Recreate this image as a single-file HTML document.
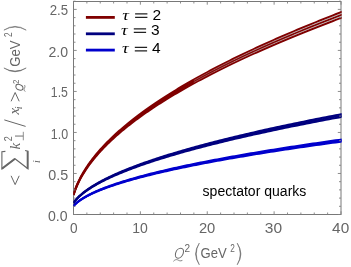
<!DOCTYPE html>
<html><head><meta charset="utf-8"><title>plot</title>
<style>html,body{margin:0;padding:0;background:#fff;}svg{display:block;will-change:transform;}text{font-family:"Liberation Sans",sans-serif;}.it{font-family:"Liberation Serif",serif;font-style:italic;}</style></head><body>
<svg width="351" height="267" viewBox="0 0 351 267">
<rect x="0" y="0" width="351" height="267" fill="#ffffff"/>
<defs><clipPath id="cp"><rect x="73.5" y="1.5" width="268.1" height="213.0"/></clipPath></defs>
<rect x="73.5" y="1.5" width="267.5" height="213.0" fill="none" stroke="#787878" stroke-width="1"/>
<g clip-path="url(#cp)">
<polyline points="73.50,206.12 73.51,206.11 73.54,206.08 73.59,206.01 73.67,205.93 73.76,205.82 73.88,205.70 74.01,205.55 74.17,205.38 74.35,205.19 74.55,204.98 74.77,204.76 75.01,204.52 75.27,204.27 75.56,204.00 75.86,203.73 76.19,203.44 76.53,203.14 76.90,202.83 77.29,202.51 77.70,202.18 78.13,201.84 78.58,201.50 79.06,201.15 79.55,200.80 80.06,200.44 80.60,200.08 81.16,199.71 81.73,199.33 82.33,198.95 82.95,198.57 83.59,198.18 84.25,197.80 84.94,197.40 85.64,197.01 86.36,196.61 87.11,196.21 87.88,195.81 88.66,195.40 89.47,195.00 90.30,194.59 91.15,194.18 92.02,193.76 92.92,193.35 93.83,192.93 94.77,192.52 95.72,192.10 96.70,191.68 97.70,191.26 98.71,190.83 99.75,190.41 100.81,189.99 101.90,189.56 103.00,189.13 104.12,188.71 105.27,188.28 106.43,187.85 107.62,187.42 108.83,186.99 110.06,186.56 111.31,186.13 112.58,185.69 113.87,185.26 115.18,184.83 116.51,184.39 117.87,183.96 119.24,183.52 120.64,183.08 122.06,182.65 123.50,182.21 124.96,181.77 126.44,181.33 127.94,180.90 129.46,180.46 131.01,180.02 132.57,179.58 134.16,179.14 135.76,178.70 137.39,178.26 139.04,177.81 140.71,177.37 142.40,176.93 144.11,176.49 145.84,176.05 147.60,175.60 149.37,175.16 151.17,174.72 152.99,174.27 154.82,173.83 156.68,173.39 158.56,172.94 160.46,172.50 162.38,172.05 164.33,171.61 166.29,171.16 168.28,170.72 170.28,170.27 172.31,169.83 174.36,169.38 176.42,168.94 178.51,168.49 180.63,168.04 182.76,167.60 184.91,167.15 187.08,166.70 189.28,166.26 191.49,165.81 193.73,165.36 195.99,164.91 198.27,164.47 200.57,164.02 202.89,163.57 205.23,163.12 207.59,162.67 209.98,162.23 212.38,161.78 214.81,161.33 217.25,160.88 219.72,160.43 222.21,159.98 224.72,159.53 227.25,159.08 229.80,158.63 232.38,158.18 234.97,157.73 237.59,157.29 240.22,156.84 242.88,156.39 245.56,155.94 248.25,155.49 250.97,155.04 253.72,154.59 256.48,154.13 259.26,153.68 262.06,153.23 264.89,152.78 267.74,152.33 270.60,151.88 273.49,151.43 276.40,150.98 279.33,150.53 282.28,150.08 285.25,149.63 288.24,149.18 291.26,148.72 294.29,148.27 297.35,147.82 300.43,147.37 303.52,146.92 306.64,146.47 309.78,146.02 312.94,145.56 316.13,145.11 319.33,144.66 322.55,144.21 325.80,143.76 329.06,143.30 332.35,142.85 335.66,142.40 338.99,141.95 342.34,141.50" fill="none" stroke="#0000cd" stroke-width="2.0" stroke-linejoin="round"/>
<polyline points="73.50,206.01 73.51,205.99 73.54,205.96 73.59,205.90 73.67,205.81 73.76,205.70 73.88,205.57 74.01,205.42 74.17,205.25 74.35,205.06 74.55,204.85 74.77,204.62 75.01,204.38 75.27,204.13 75.56,203.86 75.86,203.57 76.19,203.28 76.53,202.98 76.90,202.66 77.29,202.34 77.70,202.01 78.13,201.67 78.58,201.32 79.06,200.97 79.55,200.61 80.06,200.24 80.60,199.87 81.16,199.50 81.73,199.12 82.33,198.73 82.95,198.35 83.59,197.96 84.25,197.56 84.94,197.16 85.64,196.76 86.36,196.36 87.11,195.95 87.88,195.54 88.66,195.13 89.47,194.72 90.30,194.31 91.15,193.89 92.02,193.47 92.92,193.05 93.83,192.63 94.77,192.21 95.72,191.78 96.70,191.36 97.70,190.93 98.71,190.50 99.75,190.07 100.81,189.64 101.90,189.21 103.00,188.78 104.12,188.34 105.27,187.91 106.43,187.47 107.62,187.04 108.83,186.60 110.06,186.16 111.31,185.72 112.58,185.28 113.87,184.85 115.18,184.41 116.51,183.96 117.87,183.52 119.24,183.08 120.64,182.64 122.06,182.20 123.50,181.75 124.96,181.31 126.44,180.86 127.94,180.42 129.46,179.97 131.01,179.53 132.57,179.08 134.16,178.64 135.76,178.19 137.39,177.74 139.04,177.29 140.71,176.85 142.40,176.40 144.11,175.95 145.84,175.50 147.60,175.05 149.37,174.60 151.17,174.15 152.99,173.70 154.82,173.25 156.68,172.80 158.56,172.35 160.46,171.90 162.38,171.45 164.33,171.00 166.29,170.55 168.28,170.10 170.28,169.65 172.31,169.19 174.36,168.74 176.42,168.29 178.51,167.84 180.63,167.38 182.76,166.93 184.91,166.48 187.08,166.02 189.28,165.57 191.49,165.12 193.73,164.66 195.99,164.21 198.27,163.76 200.57,163.30 202.89,162.85 205.23,162.39 207.59,161.94 209.98,161.48 212.38,161.03 214.81,160.57 217.25,160.12 219.72,159.66 222.21,159.21 224.72,158.75 227.25,158.30 229.80,157.84 232.38,157.38 234.97,156.93 237.59,156.47 240.22,156.02 242.88,155.56 245.56,155.10 248.25,154.65 250.97,154.19 253.72,153.73 256.48,153.28 259.26,152.82 262.06,152.36 264.89,151.91 267.74,151.45 270.60,150.99 273.49,150.54 276.40,150.08 279.33,149.62 282.28,149.16 285.25,148.71 288.24,148.25 291.26,147.79 294.29,147.33 297.35,146.87 300.43,146.42 303.52,145.96 306.64,145.50 309.78,145.04 312.94,144.58 316.13,144.13 319.33,143.67 322.55,143.21 325.80,142.75 329.06,142.29 332.35,141.83 335.66,141.38 338.99,140.92 342.34,140.46" fill="none" stroke="#0000cd" stroke-width="2.0" stroke-linejoin="round"/>
<polyline points="73.50,205.89 73.51,205.88 73.54,205.84 73.59,205.78 73.67,205.69 73.76,205.58 73.88,205.45 74.01,205.30 74.17,205.12 74.35,204.93 74.55,204.72 74.77,204.49 75.01,204.24 75.27,203.98 75.56,203.71 75.86,203.42 76.19,203.13 76.53,202.82 76.90,202.50 77.29,202.17 77.70,201.83 78.13,201.49 78.58,201.14 79.06,200.78 79.55,200.42 80.06,200.05 80.60,199.67 81.16,199.29 81.73,198.90 82.33,198.52 82.95,198.12 83.59,197.73 84.25,197.33 84.94,196.92 85.64,196.52 86.36,196.11 87.11,195.69 87.88,195.28 88.66,194.86 89.47,194.45 90.30,194.02 91.15,193.60 92.02,193.18 92.92,192.75 93.83,192.32 94.77,191.90 95.72,191.46 96.70,191.03 97.70,190.60 98.71,190.17 99.75,189.73 100.81,189.29 101.90,188.86 103.00,188.42 104.12,187.98 105.27,187.54 106.43,187.10 107.62,186.65 108.83,186.21 110.06,185.77 111.31,185.32 112.58,184.88 113.87,184.43 115.18,183.99 116.51,183.54 117.87,183.09 119.24,182.64 120.64,182.19 122.06,181.74 123.50,181.30 124.96,180.84 126.44,180.39 127.94,179.94 129.46,179.49 131.01,179.04 132.57,178.59 134.16,178.14 135.76,177.68 137.39,177.23 139.04,176.78 140.71,176.32 142.40,175.87 144.11,175.41 145.84,174.96 147.60,174.50 149.37,174.05 151.17,173.59 152.99,173.13 154.82,172.68 156.68,172.22 158.56,171.76 160.46,171.31 162.38,170.85 164.33,170.39 166.29,169.93 168.28,169.48 170.28,169.02 172.31,168.56 174.36,168.10 176.42,167.64 178.51,167.18 180.63,166.72 182.76,166.27 184.91,165.81 187.08,165.35 189.28,164.89 191.49,164.43 193.73,163.97 195.99,163.51 198.27,163.05 200.57,162.58 202.89,162.12 205.23,161.66 207.59,161.20 209.98,160.74 212.38,160.28 214.81,159.82 217.25,159.36 219.72,158.90 222.21,158.43 224.72,157.97 227.25,157.51 229.80,157.05 232.38,156.58 234.97,156.12 237.59,155.66 240.22,155.20 242.88,154.73 245.56,154.27 248.25,153.81 250.97,153.35 253.72,152.88 256.48,152.42 259.26,151.96 262.06,151.49 264.89,151.03 267.74,150.57 270.60,150.10 273.49,149.64 276.40,149.18 279.33,148.71 282.28,148.25 285.25,147.78 288.24,147.32 291.26,146.86 294.29,146.39 297.35,145.93 300.43,145.46 303.52,145.00 306.64,144.53 309.78,144.07 312.94,143.60 316.13,143.14 319.33,142.68 322.55,142.21 325.80,141.75 329.06,141.28 332.35,140.82 335.66,140.35 338.99,139.89 342.34,139.42" fill="none" stroke="#0000cd" stroke-width="2.0" stroke-linejoin="round"/>
<polyline points="73.50,203.00 73.51,202.99 73.54,202.94 73.59,202.87 73.67,202.77 73.76,202.64 73.88,202.48 74.01,202.30 74.17,202.10 74.35,201.86 74.55,201.61 74.77,201.34 75.01,201.04 75.27,200.73 75.56,200.40 75.86,200.05 76.19,199.69 76.53,199.31 76.90,198.92 77.29,198.52 77.70,198.11 78.13,197.68 78.58,197.25 79.06,196.80 79.55,196.35 80.06,195.89 80.60,195.42 81.16,194.94 81.73,194.46 82.33,193.97 82.95,193.48 83.59,192.98 84.25,192.48 84.94,191.97 85.64,191.45 86.36,190.94 87.11,190.41 87.88,189.89 88.66,189.36 89.47,188.83 90.30,188.29 91.15,187.75 92.02,187.21 92.92,186.67 93.83,186.12 94.77,185.57 95.72,185.02 96.70,184.47 97.70,183.91 98.71,183.36 99.75,182.80 100.81,182.24 101.90,181.67 103.00,181.11 104.12,180.54 105.27,179.97 106.43,179.40 107.62,178.83 108.83,178.26 110.06,177.69 111.31,177.11 112.58,176.54 113.87,175.96 115.18,175.38 116.51,174.81 117.87,174.23 119.24,173.64 120.64,173.06 122.06,172.48 123.50,171.90 124.96,171.31 126.44,170.73 127.94,170.14 129.46,169.55 131.01,168.96 132.57,168.38 134.16,167.79 135.76,167.20 137.39,166.60 139.04,166.01 140.71,165.42 142.40,164.83 144.11,164.23 145.84,163.64 147.60,163.05 149.37,162.45 151.17,161.85 152.99,161.26 154.82,160.66 156.68,160.06 158.56,159.47 160.46,158.87 162.38,158.27 164.33,157.67 166.29,157.07 168.28,156.47 170.28,155.87 172.31,155.27 174.36,154.67 176.42,154.06 178.51,153.46 180.63,152.86 182.76,152.26 184.91,151.65 187.08,151.05 189.28,150.44 191.49,149.84 193.73,149.23 195.99,148.63 198.27,148.02 200.57,147.42 202.89,146.81 205.23,146.20 207.59,145.60 209.98,144.99 212.38,144.38 214.81,143.77 217.25,143.17 219.72,142.56 222.21,141.95 224.72,141.34 227.25,140.73 229.80,140.12 232.38,139.51 234.97,138.90 237.59,138.29 240.22,137.68 242.88,137.07 245.56,136.46 248.25,135.84 250.97,135.23 253.72,134.62 256.48,134.01 259.26,133.40 262.06,132.78 264.89,132.17 267.74,131.56 270.60,130.94 273.49,130.33 276.40,129.72 279.33,129.10 282.28,128.49 285.25,127.87 288.24,127.26 291.26,126.64 294.29,126.03 297.35,125.41 300.43,124.80 303.52,124.18 306.64,123.57 309.78,122.95 312.94,122.33 316.13,121.72 319.33,121.10 322.55,120.48 325.80,119.87 329.06,119.25 332.35,118.63 335.66,118.01 338.99,117.40 342.34,116.78" fill="none" stroke="#00007f" stroke-width="2.0" stroke-linejoin="round"/>
<polyline points="73.50,202.84 73.51,202.83 73.54,202.78 73.59,202.71 73.67,202.61 73.76,202.47 73.88,202.32 74.01,202.13 74.17,201.92 74.35,201.69 74.55,201.43 74.77,201.15 75.01,200.85 75.27,200.54 75.56,200.20 75.86,199.85 76.19,199.48 76.53,199.10 76.90,198.70 77.29,198.29 77.70,197.87 78.13,197.44 78.58,197.00 79.06,196.55 79.55,196.09 80.06,195.63 80.60,195.15 81.16,194.67 81.73,194.18 82.33,193.68 82.95,193.18 83.59,192.68 84.25,192.17 84.94,191.65 85.64,191.13 86.36,190.60 87.11,190.07 87.88,189.54 88.66,189.00 89.47,188.46 90.30,187.92 91.15,187.38 92.02,186.83 92.92,186.27 93.83,185.72 94.77,185.16 95.72,184.60 96.70,184.04 97.70,183.48 98.71,182.91 99.75,182.35 100.81,181.78 101.90,181.21 103.00,180.63 104.12,180.06 105.27,179.48 106.43,178.91 107.62,178.33 108.83,177.75 110.06,177.17 111.31,176.58 112.58,176.00 113.87,175.42 115.18,174.83 116.51,174.24 117.87,173.65 119.24,173.07 120.64,172.47 122.06,171.88 123.50,171.29 124.96,170.70 126.44,170.10 127.94,169.51 129.46,168.91 131.01,168.32 132.57,167.72 134.16,167.12 135.76,166.52 137.39,165.92 139.04,165.32 140.71,164.72 142.40,164.12 144.11,163.52 145.84,162.92 147.60,162.32 149.37,161.71 151.17,161.11 152.99,160.50 154.82,159.90 156.68,159.29 158.56,158.69 160.46,158.08 162.38,157.47 164.33,156.86 166.29,156.25 168.28,155.65 170.28,155.04 172.31,154.43 174.36,153.82 176.42,153.21 178.51,152.59 180.63,151.98 182.76,151.37 184.91,150.76 187.08,150.15 189.28,149.53 191.49,148.92 193.73,148.31 195.99,147.69 198.27,147.08 200.57,146.46 202.89,145.85 205.23,145.23 207.59,144.62 209.98,144.00 212.38,143.39 214.81,142.77 217.25,142.15 219.72,141.53 222.21,140.92 224.72,140.30 227.25,139.68 229.80,139.06 232.38,138.44 234.97,137.83 237.59,137.21 240.22,136.59 242.88,135.97 245.56,135.35 248.25,134.73 250.97,134.11 253.72,133.49 256.48,132.86 259.26,132.24 262.06,131.62 264.89,131.00 267.74,130.38 270.60,129.76 273.49,129.13 276.40,128.51 279.33,127.89 282.28,127.26 285.25,126.64 288.24,126.02 291.26,125.39 294.29,124.77 297.35,124.15 300.43,123.52 303.52,122.90 306.64,122.27 309.78,121.65 312.94,121.02 316.13,120.40 319.33,119.77 322.55,119.15 325.80,118.52 329.06,117.89 332.35,117.27 335.66,116.64 338.99,116.02 342.34,115.39" fill="none" stroke="#00007f" stroke-width="2.0" stroke-linejoin="round"/>
<polyline points="73.50,202.68 73.51,202.67 73.54,202.62 73.59,202.55 73.67,202.44 73.76,202.31 73.88,202.15 74.01,201.96 74.17,201.75 74.35,201.51 74.55,201.25 74.77,200.97 75.01,200.66 75.27,200.34 75.56,200.00 75.86,199.65 76.19,199.27 76.53,198.88 76.90,198.48 77.29,198.07 77.70,197.64 78.13,197.21 78.58,196.76 79.06,196.30 79.55,195.84 80.06,195.36 80.60,194.88 81.16,194.39 81.73,193.90 82.33,193.39 82.95,192.89 83.59,192.37 84.25,191.85 84.94,191.33 85.64,190.80 86.36,190.27 87.11,189.73 87.88,189.19 88.66,188.65 89.47,188.10 90.30,187.55 91.15,187.00 92.02,186.44 92.92,185.88 93.83,185.32 94.77,184.75 95.72,184.19 96.70,183.62 97.70,183.05 98.71,182.47 99.75,181.90 100.81,181.32 101.90,180.74 103.00,180.16 104.12,179.58 105.27,179.00 106.43,178.41 107.62,177.82 108.83,177.24 110.06,176.65 111.31,176.06 112.58,175.46 113.87,174.87 115.18,174.28 116.51,173.68 117.87,173.08 119.24,172.49 120.64,171.89 122.06,171.29 123.50,170.69 124.96,170.09 126.44,169.48 127.94,168.88 129.46,168.28 131.01,167.67 132.57,167.07 134.16,166.46 135.76,165.85 137.39,165.25 139.04,164.64 140.71,164.03 142.40,163.42 144.11,162.81 145.84,162.20 147.60,161.59 149.37,160.97 151.17,160.36 152.99,159.75 154.82,159.13 156.68,158.52 158.56,157.90 160.46,157.29 162.38,156.67 164.33,156.06 166.29,155.44 168.28,154.82 170.28,154.20 172.31,153.59 174.36,152.97 176.42,152.35 178.51,151.73 180.63,151.11 182.76,150.49 184.91,149.87 187.08,149.25 189.28,148.62 191.49,148.00 193.73,147.38 195.99,146.76 198.27,146.13 200.57,145.51 202.89,144.89 205.23,144.26 207.59,143.64 209.98,143.01 212.38,142.39 214.81,141.76 217.25,141.14 219.72,140.51 222.21,139.89 224.72,139.26 227.25,138.63 229.80,138.01 232.38,137.38 234.97,136.75 237.59,136.12 240.22,135.49 242.88,134.87 245.56,134.24 248.25,133.61 250.97,132.98 253.72,132.35 256.48,131.72 259.26,131.09 262.06,130.46 264.89,129.83 267.74,129.20 270.60,128.57 273.49,127.94 276.40,127.31 279.33,126.67 282.28,126.04 285.25,125.41 288.24,124.78 291.26,124.15 294.29,123.51 297.35,122.88 300.43,122.25 303.52,121.61 306.64,120.98 309.78,120.35 312.94,119.71 316.13,119.08 319.33,118.44 322.55,117.81 325.80,117.17 329.06,116.54 332.35,115.90 335.66,115.27 338.99,114.63 342.34,114.00" fill="none" stroke="#00007f" stroke-width="2.0" stroke-linejoin="round"/>
<polygon points="73.50,194.64 73.51,194.60 73.54,194.50 73.59,194.32 73.67,194.07 73.76,193.76 73.88,193.38 74.01,192.94 74.17,192.45 74.35,191.90 74.55,191.30 74.77,190.66 75.01,189.97 75.27,189.25 75.56,188.48 75.86,187.69 76.19,186.86 76.53,186.00 76.90,185.12 77.29,184.21 77.70,183.29 78.13,182.34 78.58,181.37 79.06,180.38 79.55,179.38 80.06,178.37 80.60,177.34 81.16,176.30 81.73,175.25 82.33,174.18 82.95,173.11 83.59,172.02 84.25,170.93 84.94,169.83 85.64,168.72 86.36,167.61 87.11,166.48 87.88,165.35 88.66,164.22 89.47,163.08 90.30,161.93 91.15,160.78 92.02,159.62 92.92,158.46 93.83,157.30 94.77,156.13 95.72,154.96 96.70,153.78 97.70,152.60 98.71,151.42 99.75,150.23 100.81,149.04 101.90,147.85 103.00,146.65 104.12,145.45 105.27,144.25 106.43,143.05 107.62,141.84 108.83,140.63 110.06,139.42 111.31,138.21 112.58,137.00 113.87,135.78 115.18,134.56 116.51,133.34 117.87,132.12 119.24,130.89 120.64,129.67 122.06,128.44 123.50,127.21 124.96,125.98 126.44,124.75 127.94,123.52 129.46,122.28 131.01,121.04 132.57,119.81 134.16,118.57 135.76,117.33 137.39,116.09 139.04,114.84 140.71,113.60 142.40,112.36 144.11,111.11 145.84,109.86 147.60,108.61 149.37,107.37 151.17,106.12 152.99,104.86 154.82,103.61 156.68,102.36 158.56,101.11 160.46,99.85 162.38,98.60 164.33,97.34 166.29,96.08 168.28,94.82 170.28,93.56 172.31,92.30 174.36,91.04 176.42,89.78 178.51,88.52 180.63,87.26 182.76,85.99 184.91,84.73 187.08,83.46 189.28,82.20 191.49,80.93 193.73,79.67 195.99,78.40 198.27,77.13 200.57,75.86 202.89,74.59 205.23,73.32 207.59,72.05 209.98,70.78 212.38,69.51 214.81,68.23 217.25,66.96 219.72,65.69 222.21,64.41 224.72,63.14 227.25,61.86 229.80,60.59 232.38,59.31 234.97,58.03 237.59,56.76 240.22,55.48 242.88,54.20 245.56,52.92 248.25,51.64 250.97,50.36 253.72,49.08 256.48,47.80 259.26,46.52 262.06,45.24 264.89,43.96 267.74,42.67 270.60,41.39 273.49,40.11 276.40,38.82 279.33,37.54 282.28,36.25 285.25,34.97 288.24,33.68 291.26,32.40 294.29,31.11 297.35,29.82 300.43,28.54 303.52,27.25 306.64,25.96 309.78,24.67 312.94,23.39 316.13,22.10 319.33,20.81 322.55,19.52 325.80,18.23 329.06,16.94 332.35,15.65 335.66,14.35 338.99,13.06 342.34,11.77 342.34,17.38 338.99,18.64 335.66,19.89 332.35,21.15 329.06,22.41 325.80,23.66 322.55,24.91 319.33,26.17 316.13,27.42 312.94,28.68 309.78,29.93 306.64,31.18 303.52,32.43 300.43,33.69 297.35,34.94 294.29,36.19 291.26,37.44 288.24,38.69 285.25,39.94 282.28,41.19 279.33,42.44 276.40,43.69 273.49,44.93 270.60,46.18 267.74,47.43 264.89,48.68 262.06,49.92 259.26,51.17 256.48,52.42 253.72,53.66 250.97,54.91 248.25,56.15 245.56,57.39 242.88,58.64 240.22,59.88 237.59,61.12 234.97,62.36 232.38,63.61 229.80,64.85 227.25,66.09 224.72,67.33 222.21,68.57 219.72,69.81 217.25,71.04 214.81,72.28 212.38,73.52 209.98,74.76 207.59,75.99 205.23,77.23 202.89,78.46 200.57,79.70 198.27,80.93 195.99,82.16 193.73,83.40 191.49,84.63 189.28,85.86 187.08,87.09 184.91,88.32 182.76,89.55 180.63,90.78 178.51,92.01 176.42,93.23 174.36,94.46 172.31,95.68 170.28,96.91 168.28,98.13 166.29,99.36 164.33,100.58 162.38,101.80 160.46,103.02 158.56,104.24 156.68,105.46 154.82,106.68 152.99,107.90 151.17,109.11 149.37,110.33 147.60,111.54 145.84,112.76 144.11,113.97 142.40,115.18 140.71,116.39 139.04,117.60 137.39,118.81 135.76,120.01 134.16,121.22 132.57,122.42 131.01,123.63 129.46,124.83 127.94,126.03 126.44,127.23 124.96,128.43 123.50,129.62 122.06,130.82 120.64,132.01 119.24,133.20 117.87,134.39 116.51,135.58 115.18,136.77 113.87,137.95 112.58,139.14 111.31,140.32 110.06,141.50 108.83,142.67 107.62,143.85 106.43,145.02 105.27,146.19 104.12,147.36 103.00,148.53 101.90,149.69 100.81,150.85 99.75,152.00 98.71,153.16 97.70,154.31 96.70,155.46 95.72,156.60 94.77,157.74 93.83,158.88 92.92,160.01 92.02,161.14 91.15,162.26 90.30,163.38 89.47,164.50 88.66,165.61 87.88,166.71 87.11,167.81 86.36,168.90 85.64,169.98 84.94,171.06 84.25,172.13 83.59,173.19 82.95,174.25 82.33,175.29 81.73,176.33 81.16,177.35 80.60,178.36 80.06,179.36 79.55,180.35 79.06,181.32 78.58,182.28 78.13,183.22 77.70,184.14 77.29,185.05 76.90,185.93 76.53,186.79 76.19,187.62 75.86,188.42 75.56,189.20 75.27,189.94 75.01,190.65 74.77,191.32 74.55,191.94 74.35,192.52 74.17,193.06 74.01,193.54 73.88,193.96 73.76,194.33 73.67,194.63 73.59,194.87 73.54,195.04 73.51,195.15 73.50,195.18" fill="#b4b4b4" stroke="none"/>
<polyline points="73.50,195.18 73.51,195.15 73.54,195.04 73.59,194.87 73.67,194.63 73.76,194.33 73.88,193.96 74.01,193.54 74.17,193.06 74.35,192.52 74.55,191.94 74.77,191.32 75.01,190.65 75.27,189.94 75.56,189.20 75.86,188.42 76.19,187.62 76.53,186.79 76.90,185.93 77.29,185.05 77.70,184.14 78.13,183.22 78.58,182.28 79.06,181.32 79.55,180.35 80.06,179.36 80.60,178.36 81.16,177.35 81.73,176.33 82.33,175.29 82.95,174.25 83.59,173.19 84.25,172.13 84.94,171.06 85.64,169.98 86.36,168.90 87.11,167.81 87.88,166.71 88.66,165.61 89.47,164.50 90.30,163.38 91.15,162.26 92.02,161.14 92.92,160.01 93.83,158.88 94.77,157.74 95.72,156.60 96.70,155.46 97.70,154.31 98.71,153.16 99.75,152.00 100.81,150.85 101.90,149.69 103.00,148.53 104.12,147.36 105.27,146.19 106.43,145.02 107.62,143.85 108.83,142.67 110.06,141.50 111.31,140.32 112.58,139.14 113.87,137.95 115.18,136.77 116.51,135.58 117.87,134.39 119.24,133.20 120.64,132.01 122.06,130.82 123.50,129.62 124.96,128.43 126.44,127.23 127.94,126.03 129.46,124.83 131.01,123.63 132.57,122.42 134.16,121.22 135.76,120.01 137.39,118.81 139.04,117.60 140.71,116.39 142.40,115.18 144.11,113.97 145.84,112.76 147.60,111.54 149.37,110.33 151.17,109.11 152.99,107.90 154.82,106.68 156.68,105.46 158.56,104.24 160.46,103.02 162.38,101.80 164.33,100.58 166.29,99.36 168.28,98.13 170.28,96.91 172.31,95.68 174.36,94.46 176.42,93.23 178.51,92.01 180.63,90.78 182.76,89.55 184.91,88.32 187.08,87.09 189.28,85.86 191.49,84.63 193.73,83.40 195.99,82.16 198.27,80.93 200.57,79.70 202.89,78.46 205.23,77.23 207.59,75.99 209.98,74.76 212.38,73.52 214.81,72.28 217.25,71.04 219.72,69.81 222.21,68.57 224.72,67.33 227.25,66.09 229.80,64.85 232.38,63.61 234.97,62.36 237.59,61.12 240.22,59.88 242.88,58.64 245.56,57.39 248.25,56.15 250.97,54.91 253.72,53.66 256.48,52.42 259.26,51.17 262.06,49.92 264.89,48.68 267.74,47.43 270.60,46.18 273.49,44.93 276.40,43.69 279.33,42.44 282.28,41.19 285.25,39.94 288.24,38.69 291.26,37.44 294.29,36.19 297.35,34.94 300.43,33.69 303.52,32.43 306.64,31.18 309.78,29.93 312.94,28.68 316.13,27.42 319.33,26.17 322.55,24.91 325.80,23.66 329.06,22.41 332.35,21.15 335.66,19.89 338.99,18.64 342.34,17.38" fill="none" stroke="#800000" stroke-width="2.1" stroke-linejoin="round"/>
<polyline points="73.50,194.91 73.51,194.88 73.54,194.77 73.59,194.59 73.67,194.35 73.76,194.04 73.88,193.67 74.01,193.24 74.17,192.75 74.35,192.21 74.55,191.62 74.77,190.99 75.01,190.31 75.27,189.59 75.56,188.84 75.86,188.06 76.19,187.24 76.53,186.39 76.90,185.52 77.29,184.63 77.70,183.72 78.13,182.78 78.58,181.83 79.06,180.85 79.55,179.87 80.06,178.87 80.60,177.85 81.16,176.82 81.73,175.79 82.33,174.74 82.95,173.68 83.59,172.61 84.25,171.53 84.94,170.45 85.64,169.35 86.36,168.25 87.11,167.15 87.88,166.03 88.66,164.91 89.47,163.79 90.30,162.66 91.15,161.52 92.02,160.38 92.92,159.24 93.83,158.09 94.77,156.94 95.72,155.78 96.70,154.62 97.70,153.45 98.71,152.29 99.75,151.12 100.81,149.94 101.90,148.77 103.00,147.59 104.12,146.41 105.27,145.22 106.43,144.03 107.62,142.85 108.83,141.65 110.06,140.46 111.31,139.26 112.58,138.07 113.87,136.87 115.18,135.66 116.51,134.46 117.87,133.26 119.24,132.05 120.64,130.84 122.06,129.63 123.50,128.42 124.96,127.20 126.44,125.99 127.94,124.77 129.46,123.56 131.01,122.34 132.57,121.12 134.16,119.89 135.76,118.67 137.39,117.45 139.04,116.22 140.71,115.00 142.40,113.77 144.11,112.54 145.84,111.31 147.60,110.08 149.37,108.85 151.17,107.61 152.99,106.38 154.82,105.15 156.68,103.91 158.56,102.67 160.46,101.44 162.38,100.20 164.33,98.96 166.29,97.72 168.28,96.48 170.28,95.24 172.31,93.99 174.36,92.75 176.42,91.51 178.51,90.26 180.63,89.02 182.76,87.77 184.91,86.52 187.08,85.28 189.28,84.03 191.49,82.78 193.73,81.53 195.99,80.28 198.27,79.03 200.57,77.78 202.89,76.53 205.23,75.27 207.59,74.02 209.98,72.77 212.38,71.51 214.81,70.26 217.25,69.00 219.72,67.75 222.21,66.49 224.72,65.23 227.25,63.98 229.80,62.72 232.38,61.46 234.97,60.20 237.59,58.94 240.22,57.68 242.88,56.42 245.56,55.16 248.25,53.90 250.97,52.63 253.72,51.37 256.48,50.11 259.26,48.84 262.06,47.58 264.89,46.32 267.74,45.05 270.60,43.79 273.49,42.52 276.40,41.25 279.33,39.99 282.28,38.72 285.25,37.45 288.24,36.19 291.26,34.92 294.29,33.65 297.35,32.38 300.43,31.11 303.52,29.84 306.64,28.57 309.78,27.30 312.94,26.03 316.13,24.76 319.33,23.49 322.55,22.22 325.80,20.94 329.06,19.67 332.35,18.40 335.66,17.12 338.99,15.85 342.34,14.58" fill="none" stroke="#800000" stroke-width="2.1" stroke-linejoin="round"/>
<polyline points="73.50,194.64 73.51,194.60 73.54,194.50 73.59,194.32 73.67,194.07 73.76,193.76 73.88,193.38 74.01,192.94 74.17,192.45 74.35,191.90 74.55,191.30 74.77,190.66 75.01,189.97 75.27,189.25 75.56,188.48 75.86,187.69 76.19,186.86 76.53,186.00 76.90,185.12 77.29,184.21 77.70,183.29 78.13,182.34 78.58,181.37 79.06,180.38 79.55,179.38 80.06,178.37 80.60,177.34 81.16,176.30 81.73,175.25 82.33,174.18 82.95,173.11 83.59,172.02 84.25,170.93 84.94,169.83 85.64,168.72 86.36,167.61 87.11,166.48 87.88,165.35 88.66,164.22 89.47,163.08 90.30,161.93 91.15,160.78 92.02,159.62 92.92,158.46 93.83,157.30 94.77,156.13 95.72,154.96 96.70,153.78 97.70,152.60 98.71,151.42 99.75,150.23 100.81,149.04 101.90,147.85 103.00,146.65 104.12,145.45 105.27,144.25 106.43,143.05 107.62,141.84 108.83,140.63 110.06,139.42 111.31,138.21 112.58,137.00 113.87,135.78 115.18,134.56 116.51,133.34 117.87,132.12 119.24,130.89 120.64,129.67 122.06,128.44 123.50,127.21 124.96,125.98 126.44,124.75 127.94,123.52 129.46,122.28 131.01,121.04 132.57,119.81 134.16,118.57 135.76,117.33 137.39,116.09 139.04,114.84 140.71,113.60 142.40,112.36 144.11,111.11 145.84,109.86 147.60,108.61 149.37,107.37 151.17,106.12 152.99,104.86 154.82,103.61 156.68,102.36 158.56,101.11 160.46,99.85 162.38,98.60 164.33,97.34 166.29,96.08 168.28,94.82 170.28,93.56 172.31,92.30 174.36,91.04 176.42,89.78 178.51,88.52 180.63,87.26 182.76,85.99 184.91,84.73 187.08,83.46 189.28,82.20 191.49,80.93 193.73,79.67 195.99,78.40 198.27,77.13 200.57,75.86 202.89,74.59 205.23,73.32 207.59,72.05 209.98,70.78 212.38,69.51 214.81,68.23 217.25,66.96 219.72,65.69 222.21,64.41 224.72,63.14 227.25,61.86 229.80,60.59 232.38,59.31 234.97,58.03 237.59,56.76 240.22,55.48 242.88,54.20 245.56,52.92 248.25,51.64 250.97,50.36 253.72,49.08 256.48,47.80 259.26,46.52 262.06,45.24 264.89,43.96 267.74,42.67 270.60,41.39 273.49,40.11 276.40,38.82 279.33,37.54 282.28,36.25 285.25,34.97 288.24,33.68 291.26,32.40 294.29,31.11 297.35,29.82 300.43,28.54 303.52,27.25 306.64,25.96 309.78,24.67 312.94,23.39 316.13,22.10 319.33,20.81 322.55,19.52 325.80,18.23 329.06,16.94 332.35,15.65 335.66,14.35 338.99,13.06 342.34,11.77" fill="none" stroke="#800000" stroke-width="2.1" stroke-linejoin="round"/>
<polyline points="193.88,82.38 195.57,81.45 197.27,80.52 198.97,79.60 200.67,78.68 202.37,77.77 204.07,76.86 205.77,75.96 207.47,75.07 209.17,74.18 210.87,73.30 212.57,72.42 214.27,71.54" fill="none" stroke="#c6bebe" stroke-width="0.39"/>
<polyline points="193.88,80.52 195.57,79.57 197.27,78.63 198.97,77.69 200.67,76.76 202.37,75.84 204.07,74.92 205.77,74.01 207.47,73.10 209.17,72.20 210.87,71.30 212.57,70.41 214.27,69.52" fill="none" stroke="#c6bebe" stroke-width="0.39"/>
<polyline points="213.94,71.72 215.64,70.85 217.34,69.98 219.04,69.12 220.74,68.27 222.44,67.42 224.14,66.57 225.84,65.73 227.54,64.89 229.24,64.06 230.93,63.23 232.63,62.41 234.33,61.59" fill="none" stroke="#c6bebe" stroke-width="0.46"/>
<polyline points="213.94,69.70 215.64,68.82 217.34,67.94 219.04,67.07 220.74,66.20 222.44,65.34 224.14,64.48 225.84,63.63 227.54,62.78 229.24,61.93 230.93,61.09 232.63,60.26 234.33,59.43" fill="none" stroke="#c6bebe" stroke-width="0.46"/>
<polyline points="234.00,61.75 235.70,60.93 237.40,60.12 239.10,59.31 240.80,58.51 242.50,57.71 244.20,56.91 245.90,56.12 247.60,55.33 249.30,54.54 251.00,53.76 252.70,52.98 254.40,52.21" fill="none" stroke="#c6bebe" stroke-width="0.54"/>
<polyline points="234.00,59.59 235.70,58.76 237.40,57.94 239.10,57.12 240.80,56.30 242.50,55.49 244.20,54.68 245.90,53.88 247.60,53.08 249.30,52.28 251.00,51.49 252.70,50.70 254.40,49.91" fill="none" stroke="#c6bebe" stroke-width="0.54"/>
<polyline points="254.06,52.36 255.76,51.59 257.46,50.82 259.16,50.05 260.86,49.29 262.56,48.53 264.26,47.78 265.96,47.02 267.66,46.27 269.36,45.53 271.06,44.78 272.76,44.04 274.46,43.31" fill="none" stroke="#c6bebe" stroke-width="0.61"/>
<polyline points="254.06,50.07 255.76,49.28 257.46,48.50 259.16,47.73 260.86,46.95 262.56,46.19 264.26,45.42 265.96,44.66 267.66,43.90 269.36,43.14 271.06,42.39 272.76,41.64 274.46,40.89" fill="none" stroke="#c6bebe" stroke-width="0.61"/>
<polyline points="274.12,43.45 275.82,42.72 277.52,41.99 279.22,41.26 280.92,40.53 282.62,39.81 284.32,39.09 286.02,38.37 287.72,37.66 289.42,36.94 291.12,36.24 292.82,35.53 294.52,34.82" fill="none" stroke="#c6bebe" stroke-width="0.69"/>
<polyline points="274.12,41.04 275.82,40.29 277.52,39.55 279.22,38.81 280.92,38.07 282.62,37.34 284.32,36.61 286.02,35.88 287.72,35.16 289.42,34.43 291.12,33.72 292.82,33.00 294.52,32.28" fill="none" stroke="#c6bebe" stroke-width="0.69"/>
<polyline points="294.19,34.96 295.89,34.26 297.59,33.56 299.29,32.86 300.99,32.17 302.69,31.48 304.39,30.79 306.09,30.10 307.79,29.42 309.49,28.73 311.18,28.05 312.88,27.38 314.58,26.70" fill="none" stroke="#c6bebe" stroke-width="0.76"/>
<polyline points="294.19,32.43 295.89,31.71 297.59,31.00 299.29,30.30 300.99,29.59 302.69,28.89 304.39,28.19 306.09,27.49 307.79,26.80 309.49,26.11 311.18,25.42 312.88,24.73 314.58,24.05" fill="none" stroke="#c6bebe" stroke-width="0.76"/>
<polyline points="314.25,26.83 316.62,25.90 318.99,24.96 321.36,24.03 323.72,23.11 326.09,22.19 328.46,21.27 330.83,20.36 333.20,19.45 335.57,18.54 337.93,17.64 340.30,16.75 342.67,15.85" fill="none" stroke="#c6bebe" stroke-width="0.85"/>
<polyline points="314.25,24.18 316.62,23.23 318.99,22.28 321.36,21.34 323.72,20.40 326.09,19.47 328.46,18.54 330.83,17.61 333.20,16.69 335.57,15.78 337.93,14.86 340.30,13.95 342.67,13.05" fill="none" stroke="#c6bebe" stroke-width="0.85"/>
</g>
<path d="M73.50 214.5 v-3.2 M73.50 1.5 v3.2 M86.88 214.5 v-2.0 M86.88 1.5 v2.0 M100.25 214.5 v-2.0 M100.25 1.5 v2.0 M113.62 214.5 v-2.0 M113.62 1.5 v2.0 M127.00 214.5 v-2.0 M127.00 1.5 v2.0 M140.38 214.5 v-3.2 M140.38 1.5 v3.2 M153.75 214.5 v-2.0 M153.75 1.5 v2.0 M167.12 214.5 v-2.0 M167.12 1.5 v2.0 M180.50 214.5 v-2.0 M180.50 1.5 v2.0 M193.88 214.5 v-2.0 M193.88 1.5 v2.0 M207.25 214.5 v-3.2 M207.25 1.5 v3.2 M220.62 214.5 v-2.0 M220.62 1.5 v2.0 M234.00 214.5 v-2.0 M234.00 1.5 v2.0 M247.38 214.5 v-2.0 M247.38 1.5 v2.0 M260.75 214.5 v-2.0 M260.75 1.5 v2.0 M274.12 214.5 v-3.2 M274.12 1.5 v3.2 M287.50 214.5 v-2.0 M287.50 1.5 v2.0 M300.88 214.5 v-2.0 M300.88 1.5 v2.0 M314.25 214.5 v-2.0 M314.25 1.5 v2.0 M327.62 214.5 v-2.0 M327.62 1.5 v2.0 M341.00 214.5 v-3.2 M341.00 1.5 v3.2 M73.5 214.50 h3.2 M341.0 214.50 h-3.2 M73.5 206.30 h2.0 M341.0 206.30 h-2.0 M73.5 198.09 h2.0 M341.0 198.09 h-2.0 M73.5 189.89 h2.0 M341.0 189.89 h-2.0 M73.5 181.68 h2.0 M341.0 181.68 h-2.0 M73.5 173.48 h3.2 M341.0 173.48 h-3.2 M73.5 165.28 h2.0 M341.0 165.28 h-2.0 M73.5 157.07 h2.0 M341.0 157.07 h-2.0 M73.5 148.87 h2.0 M341.0 148.87 h-2.0 M73.5 140.66 h2.0 M341.0 140.66 h-2.0 M73.5 132.46 h3.2 M341.0 132.46 h-3.2 M73.5 124.26 h2.0 M341.0 124.26 h-2.0 M73.5 116.05 h2.0 M341.0 116.05 h-2.0 M73.5 107.85 h2.0 M341.0 107.85 h-2.0 M73.5 99.64 h2.0 M341.0 99.64 h-2.0 M73.5 91.44 h3.2 M341.0 91.44 h-3.2 M73.5 83.24 h2.0 M341.0 83.24 h-2.0 M73.5 75.03 h2.0 M341.0 75.03 h-2.0 M73.5 66.83 h2.0 M341.0 66.83 h-2.0 M73.5 58.62 h2.0 M341.0 58.62 h-2.0 M73.5 50.42 h3.2 M341.0 50.42 h-3.2 M73.5 42.22 h2.0 M341.0 42.22 h-2.0 M73.5 34.01 h2.0 M341.0 34.01 h-2.0 M73.5 25.81 h2.0 M341.0 25.81 h-2.0 M73.5 17.60 h2.0 M341.0 17.60 h-2.0 M73.5 9.40 h3.2 M341.0 9.40 h-3.2 M73.5 1.20 h2.0 M341.0 1.20 h-2.0" stroke="#808080" stroke-width="0.9" fill="none"/>
<text transform="translate(48.00,221.10) scale(0.9400,1.0)" font-size="15" fill="#666666">0.0</text>
<text transform="translate(48.20,180.08) scale(0.9544,1.0)" font-size="15" fill="#666666">0.5</text>
<text transform="translate(50.80,138.56) scale(0.8297,1.0)" font-size="15" fill="#666666">1.0</text>
<text transform="translate(50.80,97.29) scale(0.8201,1.0)" font-size="15" fill="#666666">1.5</text>
<text transform="translate(48.50,56.52) scale(0.9400,1.0)" font-size="15" fill="#666666">2.0</text>
<text transform="translate(49.70,15.25) scale(0.8825,1.0)" font-size="15" fill="#666666">2.5</text>
<text transform="translate(70.00,233.20) scale(0.9102,1.0)" font-size="15" fill="#666666">0</text>
<text transform="translate(132.30,233.20) scale(0.9341,1.0)" font-size="15" fill="#666666">10</text>
<text transform="translate(198.90,233.20) scale(0.9820,1.0)" font-size="15" fill="#666666">20</text>
<text transform="translate(264.80,233.20) scale(1.0359,1.0)" font-size="15" fill="#666666">30</text>
<text transform="translate(332.10,233.20) scale(1.0240,1.0)" font-size="15" fill="#666666">40</text>
<line x1="85.9" x2="114.8" y1="17.4" y2="17.4" stroke="#800000" stroke-width="2.8"/>
<line x1="85.9" x2="114.8" y1="33.8" y2="33.8" stroke="#00007f" stroke-width="2.8"/>
<line x1="85.9" x2="114.8" y1="50.1" y2="50.1" stroke="#0000cd" stroke-width="2.8"/>
<text class="it" transform="translate(122.30000000000001,19.7) scale(1.2,1)" font-size="15.5" fill="#000">τ</text>
<path d="M135.1 13.799999999999999 h12.3 M135.1 17.4 h12.3" stroke="#222" stroke-width="1.2" fill="none"/>
<text x="152.4" y="19.7" font-size="15.5" fill="#000">2</text>
<text class="it" transform="translate(121.0,34.7) scale(1.2,1)" font-size="15.5" fill="#000">τ</text>
<path d="M133.79999999999998 28.800000000000004 h12.3 M133.79999999999998 32.400000000000006 h12.3" stroke="#222" stroke-width="1.2" fill="none"/>
<text x="151.1" y="34.7" font-size="15.5" fill="#000">3</text>
<text class="it" transform="translate(122.0,53.2) scale(1.2,1)" font-size="15.5" fill="#000">τ</text>
<path d="M134.79999999999998 47.300000000000004 h12.3 M134.79999999999998 50.900000000000006 h12.3" stroke="#222" stroke-width="1.2" fill="none"/>
<text x="152.1" y="53.2" font-size="15.5" fill="#000">4</text>
<text transform="translate(202.60,195.50) scale(1.0029,1.0)" font-size="14" fill="#000">spectator quarks</text>
<g transform="translate(173.40,258.30) scale(1.0)" fill="none" stroke="#666666"><g transform="skewX(-14)"><ellipse cx="4.75" cy="-5.1" rx="3.85" ry="5.0" stroke-width="1.050"/></g><path d="M0.0 3.0 C1.3 1.5 2.8 1.0 4.1 1.5 C5.5 2.1 6.6 3.2 9.0 2.1" stroke-width="0.800"/></g>
<text transform="translate(184.60,251.60) scale(0.9091,1.0)" font-size="11" fill="#666666">2</text>
<path d="M199.30 243.10 Q191.85 253.95 199.30 264.80 Q193.15 253.95 199.30 243.10 Z" fill="#666666" stroke="#666666" stroke-width="0.55" stroke-linejoin="round"/><text transform="translate(200.50,258.00) scale(0.9357,1.0)" font-size="14" fill="#666666">GeV</text><text transform="translate(230.30,251.70) scale(0.7863,1.0)" font-size="10.5" fill="#666666">2</text><path d="M237.20 243.10 Q244.65 253.95 237.20 264.80 Q243.35 253.95 237.20 243.10 Z" fill="#666666" stroke="#666666" stroke-width="0.55" stroke-linejoin="round"/>
<g transform="translate(19.9,185.0) rotate(-90)"><path d="M9.2 -8.8 L0.4 -4.75 L9.2 -0.7" stroke="#666666" stroke-width="1" fill="none"/><path d="M33.6 -14.5 L33.2 -18 L16.2 -18 L26.2 -4.9 L16.2 8.1 L33.8 8.1 L34.5 5.2" stroke="#666666" stroke-width="1.1" fill="none" stroke-linejoin="miter"/><path d="M16.2 -18 L26.2 -4.9" stroke="#666666" stroke-width="2" fill="none"/><path d="M16.2 7.6 L33.8 7.6" stroke="#666666" stroke-width="1.6" fill="none"/><text class="it" x="22.0" y="20" font-size="10" fill="#666666">i</text><text class="it" x="35.5" y="0" font-size="15" fill="#666666">k</text><text transform="translate(43.70,-8.20) scale(0.8547,1.0)" font-size="10.5" fill="#666666">2</text><path d="M44.7 3.4 H53.2" stroke="#7c7c7c" stroke-width="0.85" fill="none"/><path d="M48.95 3.4 V-4.9" stroke="#7c7c7c" stroke-width="1.1" fill="none"/><path d="M58.6 5.7 L65.1 -15.6" stroke="#666666" stroke-width="1" fill="none"/><text class="it" x="70.6" y="-0.7" font-size="15" fill="#666666">x</text><text class="it" x="75.7" y="2.4" font-size="10" fill="#666666">i</text><path d="M83.7 -8.8 L92.5 -4.75 L83.7 -0.7" stroke="#666666" stroke-width="1" fill="none"/><g transform="translate(93.40,3.20) scale(0.72)" fill="none" stroke="#666666"><g transform="skewX(-14)"><ellipse cx="4.75" cy="-5.1" rx="3.85" ry="5.0" stroke-width="1.389"/></g><path d="M0.0 3.0 C1.3 1.5 2.8 1.0 4.1 1.5 C5.5 2.1 6.6 3.2 9.0 2.1" stroke-width="1.111"/></g><text transform="translate(101.00,-1.40) scale(0.9412,1.0)" font-size="8.5" fill="#666666">2</text><path d="M117.00 -16.00 Q109.55 -4.85 117.00 6.30 Q110.85 -4.85 117.00 -16.00 Z" fill="#666666" stroke="#666666" stroke-width="0.55" stroke-linejoin="round"/><text transform="translate(118.20,0.00) scale(0.9357,1.0)" font-size="14" fill="#666666">GeV</text><text transform="translate(148.00,-7.90) scale(0.7863,1.0)" font-size="10.5" fill="#666666">2</text><path d="M154.90 -16.00 Q162.35 -4.85 154.90 6.30 Q161.05 -4.85 154.90 -16.00 Z" fill="#666666" stroke="#666666" stroke-width="0.55" stroke-linejoin="round"/></g>
</svg></body></html>
